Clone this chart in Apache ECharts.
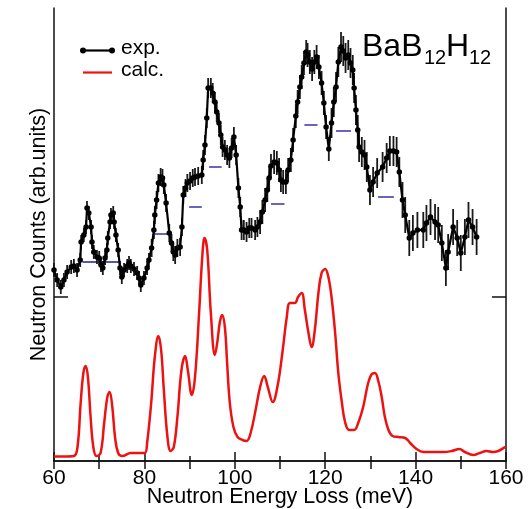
<!DOCTYPE html>
<html>
<head>
<meta charset="utf-8">
<script src="https://cdn.jsdelivr.net/npm/echarts@6/dist/echarts.min.js"></script>
<style>html,body{margin:0;padding:0;background:#fff;overflow:hidden}#c{width:529px;height:509px}</style>
</head>
<body>
<div id="c"></div>
<script>
// ---- data (x in meV, y in arbitrary units) ----
const xTicksMajor = [60, 80, 100, 120, 140, 160];
const sideTicks = [164];

const calcX = [60.0,62.0,64.4,65.2,65.9,66.5,67.0,67.5,68.1,68.7,69.4,70.3,71.1,71.8,72.3,72.9,73.5,74.2,75.1,77.0,
78.8,80.1,80.6,81.5,82.3,83.1,83.7,84.3,85.1,85.8,86.5,87.3,88.2,89.0,89.6,90.5,91.2,92.1,92.8,93.3,
93.9,94.7,95.6,96.1,96.7,97.2,97.8,98.3,98.9,99.7,100.6,101.7,102.6,103.5,104.6,105.6,106.5,107.3,108.4,109.5,
110.6,111.5,112.2,113.3,114.0,114.8,115.5,116.3,117.0,117.7,118.5,119.2,120.0,120.7,121.4,122.2,122.9,123.7,124.4,125.3,
126.4,127.3,128.4,129.5,130.3,131.0,131.8,132.5,133.2,134.0,134.9,136.2,137.7,138.8,140.2,141.7,143.9,146.1,148.0,149.7,
150.9,152.8,154.2,155.7,157.1,158.3,159.8,160.0];
const calcY = [4.5,4.5,5,14,58,88,95,84,44,14,5,8,38,64,69,54,24,8,5,8,
8,8,18,58,104,125,111,71,24,10,14,44,91,105,91,66,84,148,204,223,
211,148,106,118,139,146,134,98,58,34,24,21,20,28,51,74,85,74,59,76,
111,144,158,158,164,168,151,128,114,131,168,188,192,184,164,128,88,58,39,31,
31,38,54,78,87,88,79,64,44,31,25,24,23,18,12,9,9,9,10,12,
9,6,8,10,9,10,14,14.5];

const expX = [60.0,60.7,61.5,62.2,62.9,63.8,64.4,65.1,65.8,66.0,
66.6,67.1,67.3,67.7,68.2,68.4,68.8,69.5,70.0,70.4,
70.8,71.3,71.7,71.9,72.4,72.6,73.1,73.3,73.7,74.2,
74.6,75.0,75.5,76.2,76.6,77.0,77.7,78.4,78.8,79.2,
79.9,80.6,81.0,81.6,82.1,82.3,82.7,83.1,83.6,84.0,
84.3,84.8,85.5,86.0,86.4,86.8,87.3,87.9,88.3,88.6,
89.1,89.5,90.1,90.7,91.2,91.9,92.7,93.0,93.4,93.8,
94.1,94.7,95.1,95.6,96.0,96.5,96.9,97.3,97.8,98.3,
98.8,99.3,99.8,100.3,100.8,101.2,101.5,102.0,102.6,103.2,
103.7,104.5,105.0,105.6,106.1,106.7,107.2,107.6,108.0,108.7,
109.3,109.8,110.2,110.7,111.3,111.8,112.4,112.9,113.5,113.9,
114.4,114.8,115.3,115.8,116.1,116.6,117.1,117.6,118.1,118.6,
119.2,119.7,120.2,120.8,121.4,121.9,122.4,122.9,123.5,124.0,
124.5,125.1,125.6,126.1,126.4,126.8,127.2,127.5,128.1,128.7,
129.2,129.9,130.6,131.5,132.7,133.6,134.3,135.1,135.8,136.4,
137.1,137.7,138.6,139.4,140.4,141.7,142.4,143.3,144.3,145.0,
145.8,146.7,147.2,148.3,149.2,150.0,150.9,151.7,152.6,153.5];
const expY = [191,181,174,181,189,194,195,191,201,219,
226,234,253,248,234,219,209,204,203,196,
193,203,211,223,239,246,248,239,226,211,
193,184,191,195,198,195,192,188,183,176,
183,193,201,213,231,246,261,278,284,283,
276,258,228,218,209,206,213,214,234,266,
273,278,280,283,284,285,286,301,316,343,
373,373,368,359,349,338,326,314,311,306,
303,313,324,306,273,254,231,231,229,233,
233,231,234,239,249,261,271,283,295,299,
298,291,281,279,279,291,301,321,345,359,
374,384,398,409,406,399,392,399,404,394,
378,358,334,312,338,359,374,399,414,410,
403,406,398,391,373,351,331,314,309,306,
294,271,279,288,294,303,310,310,309,289,
261,246,223,228,231,231,238,244,239,236,
218,193,209,234,223,208,224,241,234,224];
const expErr = [7,7,7,7,7,7,7,7,7,7,
7,7,7,7,7,7,7,7,7,7,
7,7,7,7,7,7,7,7,7,7,
7,7,7,7,7,7,7,7,7,7,
7,7,7,9,9,9,9,9,9,9,
9,9,9,9,9,9,9,9,9,9,
9,9,9,9,9,9,9,10,10,10,
10,10,10,10,10,10,10,10,10,10,
10,10,10,10,10,10,10,10,10,10,
10,10,10,12,12,12,12,12,12,12,
12,12,12,12,12,12,12,12,12,12,
12,12,12,12,12,12,12,12,12,12,
12,12,12,12,15,15,15,15,15,15,
15,15,15,15,15,15,15,15,15,15,
15,15,15,15,15,15,15,15,15,15,
18,18,18,18,18,18,18,18,18,18,
18,18,18,18,18,18,18,18,18,18];

// blue markers: [start meV, end meV, level]
const markerStart = [66.3, 82.3, 89.9, 94.3, 108.0, 115.4, 122.4, 131.7];
const markerEnd   = [74.4, 85.3, 92.7, 97.1, 111.0, 118.3, 125.7, 135.2];
const markerLevel = [199, 227, 254, 294, 257, 336, 330, 264];

const FONT = 'Liberation Sans, Arial, Helvetica, sans-serif';

const calcData = calcX.map((x, i) => [x, calcY[i]]);
const expData = expX.map((x, i) => [x, expY[i]]);
const errData = expX.map((x, i) => [x, expY[i], expErr[i]]);
const markData = markerStart.map((s, i) => [s, markerEnd[i], markerLevel[i]]);

const chart = echarts.init(document.getElementById('c'), null, {renderer: 'canvas', width: 529, height: 509});
const axisLine = {show: true, lineStyle: {color: '#111', width: 1.5}};
chart.setOption({
  animation: false,
  backgroundColor: '#fff',
  grid: {left: 54, right: 23, top: 8, bottom: 48, containLabel: false, outerBoundsMode: 'none'},
  xAxis: [{
    type: 'value', min: 60, max: 160, interval: 20, position: 'bottom',
    axisLine: axisLine,
    axisTick: {show: true, inside: true, length: 9, lineStyle: {color: '#111', width: 1.5}},
    minorTick: {show: true, splitNumber: 2, length: 5, lineStyle: {color: '#111', width: 1.5}},
    splitLine: {show: false},
    axisLabel: {fontSize: 21, color: '#000', fontFamily: FONT, margin: 7,
      customValues: xTicksMajor},
    name: 'Neutron Energy Loss (meV)', nameLocation: 'middle', nameGap: 25, nameMoveOverlap: false,
    nameTextStyle: {fontSize: 21.5, color: '#000', fontFamily: FONT}
  }, {
    type: 'value', min: 60, max: 160, interval: 10, position: 'top',
    axisLine: axisLine,
    axisTick: {show: true, inside: true, length: 8, lineStyle: {color: '#111', width: 1.5}},
    axisLabel: {show: false}, splitLine: {show: false}
  }],
  yAxis: [{
    type: 'value', min: 0, max: 453, position: 'left',
    axisLine: axisLine,
    axisTick: {show: true, inside: true, length: 14, customValues: sideTicks, lineStyle: {color: '#111', width: 1.5}},
    axisLabel: {show: false}, splitLine: {show: false},
    name: 'Neutron Counts (arb.units)', nameLocation: 'middle', nameGap: 4, nameMoveOverlap: false,
    nameTextStyle: {fontSize: 21.5, color: '#000', fontFamily: FONT}
  }, {
    type: 'value', min: 0, max: 453, position: 'right',
    axisLine: axisLine,
    axisTick: {show: true, inside: true, length: 14, customValues: sideTicks, lineStyle: {color: '#111', width: 1.5}},
    axisLabel: {show: false}, splitLine: {show: false}
  }],
  graphic: [
    {type: 'line', shape: {x1: 83, y1: 50.5, x2: 112, y2: 50.5}, style: {stroke: '#000', lineWidth: 2.2}},
    {type: 'circle', shape: {cx: 83, cy: 50.5, r: 3}, style: {fill: '#000'}},
    {type: 'circle', shape: {cx: 112, cy: 50.5, r: 3}, style: {fill: '#000'}},
    {type: 'text', x: 121, y: 48, style: {text: 'exp.', fontSize: 21, fontFamily: FONT, fill: '#000', verticalAlign: 'middle'}},
    {type: 'line', shape: {x1: 83, y1: 72.5, x2: 112, y2: 72.5}, style: {stroke: '#ee1111', lineWidth: 2.2}},
    {type: 'text', x: 121, y: 70, style: {text: 'calc.', fontSize: 21, fontFamily: FONT, fill: '#000', verticalAlign: 'middle'}},
    {type: 'text', x: 362, y: 47, style: {text: 'BaB', fontSize: 32, fontFamily: FONT, fill: '#000', verticalAlign: 'middle'}},
    {type: 'text', x: 424, y: 58.5, style: {text: '12', fontSize: 20, fontFamily: FONT, fill: '#000', verticalAlign: 'middle'}},
    {type: 'text', x: 446, y: 47, style: {text: 'H', fontSize: 32, fontFamily: FONT, fill: '#000', verticalAlign: 'middle'}},
    {type: 'text', x: 469, y: 58.5, style: {text: '12', fontSize: 20, fontFamily: FONT, fill: '#000', verticalAlign: 'middle'}}
  ],
  series: [{
    name: 'calc.', type: 'line', data: calcData, smooth: 0.4, showSymbol: false,
    lineStyle: {color: '#ee1111', width: 2.5}, z: 2
  }, {
    name: 'markers', type: 'custom', data: markData, encode: {x: [0, 1], y: 2}, z: 3,
    renderItem: function (params, api) {
      const a = api.coord([api.value(0), api.value(2)]);
      const b = api.coord([api.value(1), api.value(2)]);
      return {type: 'line', shape: {x1: a[0], y1: a[1], x2: b[0], y2: b[1]},
        style: {stroke: '#5555b5', lineWidth: 1.8}};
    }
  }, {
    name: 'err', type: 'custom', data: errData, encode: {x: 0, y: 1}, z: 4,
    renderItem: function (params, api) {
      const x = api.value(0), y = api.value(1), e = api.value(2);
      const a = api.coord([x, y - e]);
      const b = api.coord([x, y + e]);
      return {type: 'line', shape: {x1: a[0], y1: a[1], x2: b[0], y2: b[1]},
        style: {stroke: '#1a1a1a', lineWidth: 1.8}};
    }
  }, {
    name: 'exp.', type: 'line', data: expData, symbol: 'circle', symbolSize: 5.5,
    itemStyle: {color: '#000'}, lineStyle: {color: '#000', width: 2.2}, z: 5
  }]
});
</script>
</body>
</html>
